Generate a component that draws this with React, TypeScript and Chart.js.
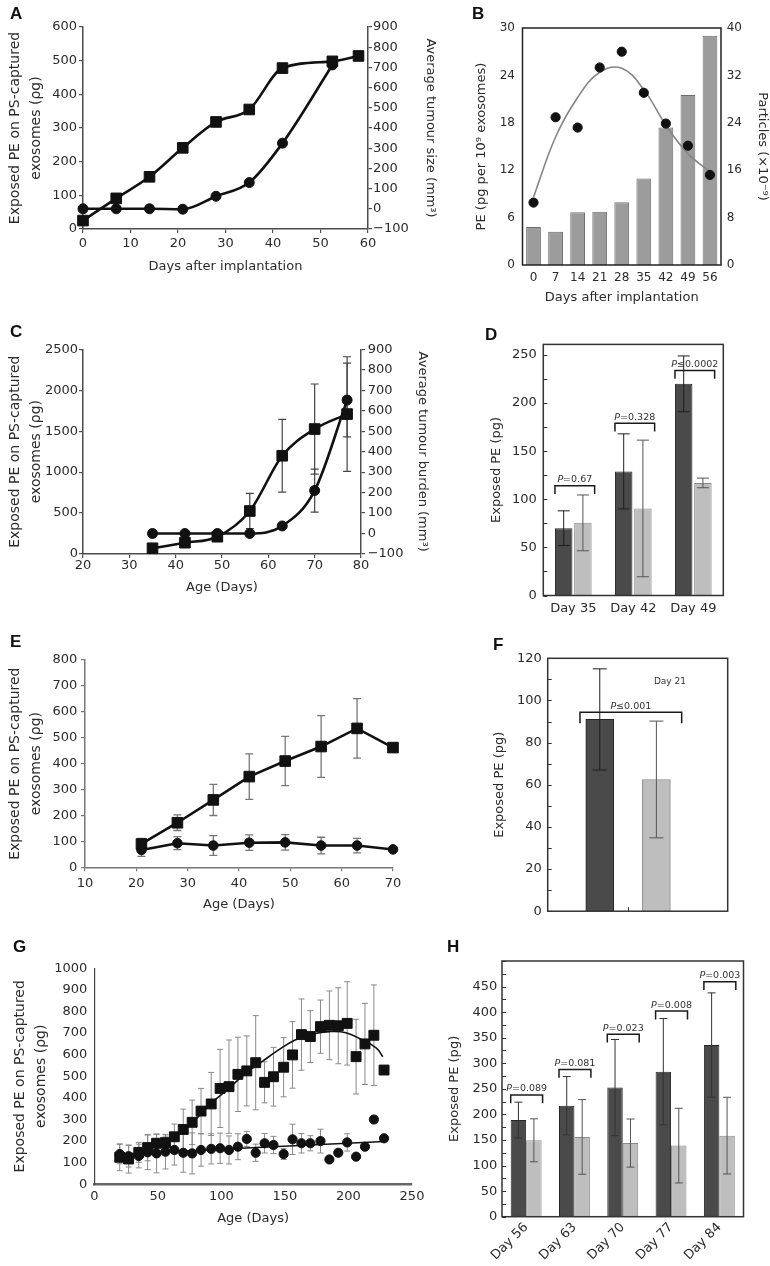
import React, { useEffect, useRef } from 'react';
import { Chart, registerables } from 'chart.js';

Chart.register(...registerables);

const FONT = '"DejaVu Sans", "Liberation Sans", sans-serif';
const TXT = '#2b2b2b';
Chart.defaults.font.family = FONT;
Chart.defaults.color = TXT;

// ---------- Panel A ----------
const aDaysPE = [0, 7, 14, 21, 28, 35, 42, 52.5, 58];
const aPE = [25, 91, 155, 241, 318, 355, 478, 498, 514];
const aDaysTumour = [0, 7, 14, 21, 28, 35, 42, 52.5];
const aTumour = [0, 0, 0, -2, 62, 130, 325, 712];

// ---------- Panel B ----------
const bDays = ['0', '7', '14', '21', '28', '35', '42', '49', '56'];
const bParticles = [6.4, 5.6, 8.9, 9.0, 10.6, 14.6, 23.2, 28.7, 38.7];
const bPE = [7.9, 18.7, 17.4, 25.0, 27.0, 21.8, 17.9, 15.1, 11.4];
const bFit = [8.6, 16.2, 21.2, 24.4, 24.9, 22.2, 17.7, 14.1, 11.8];

// ---------- Panel C ----------
const cAge = [35, 42, 49, 56, 63, 70, 77];
const cPE = [70, 138, 211, 525, 1200, 1526, 1709];
const cPEErr = [0, 0, 0, 216, 444, 550, 700];
const cTumour = [0, 0, 0, 0, 37, 210, 652];
const cTumourErr = [0, 0, 0, 0, 0, 105, 180];

// ---------- Panel D ----------
const dDays = ['Day 35', 'Day 42', 'Day 49'];
const dTumour = [70, 129, 220];
const dTumourErr = [18, 39, 29];
const dControl = [75.5, 90.5, 117];
const dControlErr = [29, 71, 5];
const dP = ['P=0.67', 'P=0.328', 'P\u22640.0002'];
const dBracketY = [114, 179, 234];

// ---------- Panel E ----------
const eAge = [21, 28, 35, 42, 49, 56, 63, 70];
const ePE = [90, 172, 260, 350, 410, 466, 536, 462];
const ePEErr = [22, 30, 60, 88, 95, 119, 115, 0];
const eCtrl = [67, 93, 84, 95, 96, 84, 84, 69];
const eCtrlErr = [25, 25, 38, 30, 30, 32, 28, 0];

// ---------- Panel F ----------
const fPos = [1, 2];
const fVals = [91, 62.5];
const fErr = [24, 27.7];
const fP = ['P\u22640.001'];
const fBracketY = [94.4];
const fNote = 'Day 21';
const fNoteX = 2.24;
const fNoteY = 108.7;
const fTickX = [1.5];

// ---------- Panel G ----------
const gAge = [20, 27, 35, 42, 49, 56, 63, 70, 77, 84, 92, 99, 106, 113, 120, 127, 134, 141, 149, 156, 163, 170, 178, 185, 192, 199, 206, 213, 220, 228];
const gPE = [125, 117, 148, 170, 190, 193, 220, 254, 287, 339, 372, 444, 452, 509, 525, 563, 472, 498, 542, 599, 693, 684, 730, 736, 734, 745, 591, 650, 690, 529];
const gPEErr = [62, 65, 46, 61, 41, 30, 59, 94, 103, 105, 146, 181, 216, 172, 162, 218, 95, 136, 137, 154, 165, 120, 123, 159, 176, 193, 173, 188, 233, 0];
const gCtrl = [140, 130, 131, 148, 143, 151, 159, 146, 143, 159, 164, 167, 159, 174, 210, 146, 190, 182, 140, 208, 190, 190, 200, 115, 146, 194, 128, 174, 300, 213];
const gCtrlErr = [45, 50, 55, 80, 90, 80, 70, 90, 95, 75, 70, 70, 65, 60, 35, 40, 45, 40, 25, 70, 45, 35, 55, 0, 0, 40, 0, 0, 0, 0];
const gTrendAge = [20, 35, 49, 63, 77, 92, 106, 119, 132, 145, 158, 172, 185, 198, 211, 222, 227];
const gTrendPE = [110, 130, 165, 215, 285, 375, 444, 514, 568, 622, 668, 696, 707, 702, 668, 630, 591];
const gCtrlTrendAge = [20, 228];
const gCtrlTrend = [140, 198];

// ---------- Panel H ----------
const hDays = ['Day 56', 'Day 63', 'Day 70', 'Day 77', 'Day 84'];
const hTumour = [189, 217, 252.5, 283.6, 335.7];
const hTumourErr = [35, 57, 94, 104, 102];
const hControl = [149.4, 156, 144, 139, 158.5];
const hControlErr = [42, 73, 47, 73, 75];
const hP = ['P=0.089', 'P=0.081', 'P=0.023', 'P=0.008', 'P=0.003'];
const hBracketY = [238, 288, 357, 402, 459.5];

// ---------- helpers ----------
const xy = (xs: number[], ys: number[]) => xs.map((x, i) => ({ x, y: ys[i] }));
const fmt = (v: number) => (v < 0 ? '\u2212' + Math.abs(v) : String(v));

function axis(horizontal: boolean, o: any) {
  const tick = o.tick ?? 0;
  const color = o.color ?? '#4d4d4d';
  const isCat = o.type === 'category';
  const ticks: any = {
    padding: o.pad ?? 3,
    font: { size: o.fontSize ?? 13 },
    color: TXT,
    autoSkip: false,
    maxRotation: o.rot ?? 0,
    minRotation: o.rot ?? 0,
    includeBounds: o.includeBounds ?? true,
  };
  if (!isCat) {
    ticks.stepSize = o.step;
    ticks.callback = (v: number) => (o.maxLabel !== undefined && v > o.maxLabel ? '' : fmt(v));
  }
  return {
    type: o.type ?? 'linear',
    position: o.position ?? (horizontal ? 'bottom' : 'left'),
    min: o.min,
    max: o.max,
    offset: isCat,
    afterFit: (s: any) => {
      if (horizontal) s.height = o.size;
      else s.width = o.size;
    },
    border: { display: o.border ?? true, color, width: o.lineWidth ?? 1.5 },
    grid: { display: tick > 0, drawOnChartArea: false, drawTicks: tick > 0, tickLength: tick, color, lineWidth: 1.2 },
    ticks,
    title: o.title
      ? {
          display: true,
          text: o.title,
          color: TXT,
          font: { size: o.titleSize ?? 13, lineHeight: o.titleLH ?? 1.2 },
          padding: horizontal ? { top: 0, bottom: o.titlePad ?? 0 } : { top: o.titlePad ?? 0, bottom: 0 },
        }
      : { display: false },
  };
}

function baseOptions(p: any) {
  return {
    responsive: false,
    animation: false,
    events: [],
    devicePixelRatio: 1,
    layout: { padding: { top: p.top ?? 0, right: p.right ?? 0, bottom: p.bottom ?? 0, left: 0 } },
    plugins: { legend: { display: false }, tooltip: { enabled: false }, title: { display: false } },
  };
}

function drawErrorBars(chart: any, specs: any[]) {
  const ctx = chart.ctx;
  specs.forEach((sp) => {
    const meta = chart.getDatasetMeta(sp.ds);
    const ys = chart.scales[meta.yAxisID];
    const data = chart.data.datasets[sp.ds].data;
    ctx.save();
    ctx.strokeStyle = sp.color;
    ctx.lineWidth = sp.width ?? 1;
    meta.data.forEach((el: any, j: number) => {
      const e = sp.values[j];
      if (!e) return;
      const raw = data[j];
      const v = typeof raw === 'number' ? raw : raw.y;
      const x = el.x;
      const y1 = ys.getPixelForValue(v + e);
      const y2 = ys.getPixelForValue(v - e);
      const h = sp.cap / 2;
      ctx.beginPath();
      ctx.moveTo(x, y1);
      ctx.lineTo(x, y2);
      ctx.moveTo(x - h, y1);
      ctx.lineTo(x + h, y1);
      ctx.moveTo(x - h, y2);
      ctx.lineTo(x + h, y2);
      ctx.stroke();
    });
    ctx.restore();
  });
}

const errorBars = (specs: any[], front: boolean) => ({
  id: 'errorBars',
  beforeDatasetsDraw(chart: any) {
    if (!front) drawErrorBars(chart, specs);
  },
  afterDatasetsDraw(chart: any) {
    if (front) drawErrorBars(chart, specs);
  },
});

const frame = (color: string, width: number) => ({
  id: 'frame',
  afterDraw(chart: any) {
    const { ctx, chartArea: c } = chart;
    ctx.save();
    ctx.strokeStyle = color;
    ctx.lineWidth = width;
    ctx.strokeRect(c.left, c.top, c.right - c.left, c.bottom - c.top);
    ctx.restore();
  },
});

const innerTicks = (yStep: number, xValues: number[] = [], len = 4) => ({
  id: 'innerTicks',
  afterDraw(chart: any) {
    const { ctx, chartArea: c } = chart;
    const s = chart.scales.y;
    ctx.save();
    ctx.strokeStyle = '#333';
    ctx.lineWidth = 1;
    ctx.beginPath();
    for (let v = s.min; v <= s.max + 1e-6; v += yStep) {
      const y = Math.round(s.getPixelForValue(v)) + 0.5;
      ctx.moveTo(c.left, y);
      ctx.lineTo(c.left + len, y);
    }
    xValues.forEach((v) => {
      const x = Math.round(chart.scales.x.getPixelForValue(v)) + 0.5;
      ctx.moveTo(x, c.bottom);
      ctx.lineTo(x, c.bottom - len);
    });
    ctx.stroke();
    ctx.restore();
  },
});

function drawPText(ctx: any, text: string, cx: number, y: number, size: number) {
  const first = text.charAt(0);
  const rest = text.slice(1);
  ctx.font = `italic ${size}px ${FONT}`;
  const w1 = ctx.measureText(first).width;
  ctx.font = `${size}px ${FONT}`;
  const w2 = ctx.measureText(rest).width;
  const x = cx - (w1 + w2) / 2;
  ctx.textAlign = 'left';
  ctx.textBaseline = 'alphabetic';
  ctx.font = `italic ${size}px ${FONT}`;
  ctx.fillText(first, x, y);
  ctx.font = `${size}px ${FONT}`;
  ctx.fillText(rest, x + w1, y);
}

const brackets = (cfg: any) => ({
  id: 'brackets',
  afterDraw(chart: any) {
    const { ctx } = chart;
    const ys = chart.scales.y;
    const xs = chart.scales.x;
    const a = chart.getDatasetMeta(0).data;
    const b = chart.getDatasetMeta(1).data;
    ctx.save();
    ctx.strokeStyle = '#1a1a1a';
    ctx.lineWidth = 1.5;
    ctx.fillStyle = '#333';
    cfg.ys.forEach((yv: number, i: number) => {
      const x0 = a[i].x - a[i].width / 2 - cfg.padL;
      const x1 = b[i].x + b[i].width / 2 + cfg.padR;
      const y = ys.getPixelForValue(yv);
      ctx.beginPath();
      ctx.moveTo(x0, y + cfg.leg);
      ctx.lineTo(x0, y);
      ctx.lineTo(x1, y);
      ctx.lineTo(x1, y + cfg.leg);
      ctx.stroke();
      drawPText(ctx, cfg.texts[i], (x0 + x1) / 2, y - cfg.gap, cfg.size);
    });
    (cfg.notes || []).forEach((n: any) => {
      ctx.font = `${n.size}px ${FONT}`;
      ctx.textAlign = 'center';
      ctx.textBaseline = 'middle';
      ctx.fillText(n.text, xs.getPixelForValue(n.x), ys.getPixelForValue(n.y));
    });
    ctx.restore();
  },
});

const TWO_LINE = ['Exposed PE on PS-captured', 'exosomes (\u03c1g)'];

const lineDs = (data: any, shape: string, extra: any = {}) => ({
  data,
  borderColor: '#111',
  backgroundColor: '#111',
  borderWidth: 2.6,
  pointStyle: shape,
  pointRadius: shape === 'rect' ? 7.5 : 5,
  pointBorderWidth: 1,
  pointBorderColor: '#111',
  pointBackgroundColor: '#111',
  clip: false,
  ...extra,
});

// ---------- configs ----------
function configA() {
  return {
    type: 'line',
    data: {
      datasets: [
        lineDs(xy(aDaysPE, aPE), 'rect', { yAxisID: 'y', cubicInterpolationMode: 'monotone' }),
        lineDs(xy(aDaysTumour, aTumour), 'circle', { yAxisID: 'y1', cubicInterpolationMode: 'monotone' }),
      ],
    },
    options: {
      ...baseOptions({ top: 27 }),
      scales: {
        x: axis(true, { min: 0, max: 60, step: 10, size: 61, title: 'Days after implantation', titlePad: 15.2, tick: 4, pad: 2.5 }),
        y: axis(false, { min: 0, max: 600, step: 100, size: 83, title: TWO_LINE, titleSize: 14, titleLH: 1.55, titlePad: 4.15, tick: 4, pad: 2 }),
        y1: axis(false, { position: 'right', min: -100, max: 900, step: 100, size: 77, title: 'Average tumour size (mm\u00b3)', titlePad: 7.2, tick: 4, pad: 1 }),
      },
    },
  };
}

function configB() {
  return {
    type: 'bar',
    data: {
      labels: bDays,
      datasets: [
        { type: 'line', data: bPE, yAxisID: 'y', showLine: false, pointRadius: 4.6, pointBackgroundColor: '#111', pointBorderColor: '#111', order: 1, clip: false },
        { type: 'line', data: bFit, yAxisID: 'y', borderColor: '#858585', borderWidth: 1.6, pointRadius: 0, tension: 0.4, order: 2, clip: false },
        { type: 'bar', data: bParticles, yAxisID: 'y1', backgroundColor: '#9c9c9c', borderColor: '#6e6e6e', borderWidth: 1, barPercentage: 0.67, categoryPercentage: 1, order: 3 },
      ],
    },
    options: {
      ...baseOptions({ top: 28 }),
      scales: {
        x: axis(true, { type: 'category', size: 45, title: 'Days after implantation', titlePad: 4.2, border: false, pad: 5.5, fontSize: 12 }),
        y: axis(false, { min: 0, max: 30, step: 6, size: 77.5, title: 'PE (pg per 10\u2079 exosomes)', titlePad: 29.2, border: false, pad: 7.5, fontSize: 12 }),
        y1: axis(false, { position: 'right', min: 0, max: 40, step: 8, size: 49, title: 'Particles (\u00d710\u207b\u2079)', titlePad: 0, border: false, pad: 5.7, fontSize: 12 }),
      },
    },
    plugins: [frame('#222', 1.5)],
  };
}

function configC() {
  return {
    type: 'line',
    data: {
      datasets: [
        lineDs(xy(cAge, cPE), 'rect', { yAxisID: 'y', cubicInterpolationMode: 'monotone' }),
        lineDs(xy(cAge, cTumour), 'circle', { yAxisID: 'y1', cubicInterpolationMode: 'monotone' }),
      ],
    },
    options: {
      ...baseOptions({ top: 19.3 }),
      scales: {
        x: axis(true, { min: 20, max: 80, step: 10, size: 56, title: 'Age (Days)', titlePad: 14.2, tick: 4, pad: 0 }),
        y: axis(false, { min: 0, max: 2500, step: 500, size: 83, title: TWO_LINE, titleSize: 14, titleLH: 1.55, titlePad: 4.15, tick: 4, pad: 1 }),
        y1: axis(false, { position: 'right', min: -100, max: 900, step: 100, size: 84, title: 'Average tumour burden (mm\u00b3)', titlePad: 15.2, tick: 4, pad: 2.7 }),
      },
    },
    plugins: [
      errorBars(
        [
          { ds: 0, values: cPEErr, color: '#444', cap: 8, width: 1.2 },
          { ds: 1, values: cTumourErr, color: '#444', cap: 8, width: 1.2 },
        ],
        false
      ),
    ],
  };
}

function configD() {
  return {
    type: 'bar',
    data: {
      labels: dDays,
      datasets: [
        { data: dTumour, backgroundColor: '#4a4a4a', borderColor: '#262626', borderWidth: 1, barPercentage: 0.91, categoryPercentage: 0.64 },
        { data: dControl, backgroundColor: '#bebebe', borderColor: '#8a8a8a', borderWidth: 1, barPercentage: 0.91, categoryPercentage: 0.64 },
      ],
    },
    options: {
      ...baseOptions({ top: 14, right: 46.7 }),
      scales: {
        x: axis(true, { type: 'category', size: 24.5, border: false, pad: 5 }),
        y: axis(false, { min: 0, max: 261, step: 50, size: 98.3, title: 'Exposed PE (pg)', titlePad: 44.2, border: false, pad: 6.6, includeBounds: false }),
      },
    },
    plugins: [
      errorBars(
        [
          { ds: 0, values: dTumourErr, color: '#1e1e1e', cap: 12, width: 1 },
          { ds: 1, values: dControlErr, color: '#555', cap: 12, width: 1 },
        ],
        true
      ),
      brackets({ ys: dBracketY, texts: dP, leg: 8.3, padL: 0, padR: 3, gap: 3.5, size: 9.5 }),
      innerTicks(25),
      frame('#333', 1.5),
    ],
  };
}

function configE() {
  return {
    type: 'line',
    data: {
      datasets: [
        lineDs(xy(eAge, ePE), 'rect', { tension: 0 }),
        lineDs(xy(eAge, eCtrl), 'circle', { tension: 0, pointRadius: 4.8 }),
      ],
    },
    options: {
      ...baseOptions({ top: 50, right: 52 }),
      scales: {
        x: axis(true, { min: 10, max: 70, step: 10, size: 52.7, title: 'Age (Days)', titlePad: 7.2, tick: 4, pad: 4.2, color: '#777' }),
        y: axis(false, { min: 0, max: 800, step: 100, size: 85, title: TWO_LINE, titleSize: 14, titleLH: 1.55, titlePad: 4.15, tick: 4, pad: 3.7, color: '#777' }),
      },
    },
    plugins: [
      errorBars(
        [
          { ds: 0, values: ePEErr, color: '#777', cap: 8, width: 1.3 },
          { ds: 1, values: eCtrlErr, color: '#777', cap: 8, width: 1.3 },
        ],
        false
      ),
    ],
  };
}

function configF() {
  return {
    type: 'bar',
    data: {
      datasets: [
        { data: [{ x: fPos[0], y: fVals[0] }], backgroundColor: '#4a4a4a', borderColor: '#262626', borderWidth: 1, barThickness: 28, grouped: false },
        { data: [{ x: fPos[1], y: fVals[1] }], backgroundColor: '#bebebe', borderColor: '#8a8a8a', borderWidth: 1, barThickness: 28, grouped: false },
      ],
    },
    options: {
      ...baseOptions({ top: 38.3, right: 42.3, bottom: 12 }),
      scales: {
        x: { type: 'linear', display: false, min: 0.08, max: 3.26, offset: false },
        y: axis(false, { min: 0, max: 120, step: 20, size: 102.7, title: 'Exposed PE (pg)', titlePad: 47.2, border: false, pad: 6 }),
      },
    },
    plugins: [
      errorBars(
        [
          { ds: 0, values: [fErr[0]], color: '#1e1e1e', cap: 14, width: 1 },
          { ds: 1, values: [fErr[1]], color: '#555', cap: 14, width: 1 },
        ],
        true
      ),
      brackets({ ys: fBracketY, texts: fP, leg: 11, padL: 5.8, padR: 11.3, gap: 3.5, size: 9.5, notes: [{ text: fNote, x: fNoteX, y: fNoteY, size: 9 }] }),
      innerTicks(10, fTickX),
      frame('#333', 1.5),
    ],
  };
}

function configG() {
  return {
    type: 'line',
    data: {
      datasets: [
        { data: xy(gAge, gPE), showLine: false, pointStyle: 'rect', pointRadius: 7, pointBackgroundColor: '#111', pointBorderColor: '#111', order: 1, clip: false },
        { data: xy(gAge, gCtrl), showLine: false, pointStyle: 'circle', pointRadius: 4.6, pointBackgroundColor: '#111', pointBorderColor: '#111', order: 2, clip: false },
        { data: xy(gTrendAge, gTrendPE), borderColor: '#111', borderWidth: 1.6, pointRadius: 0, tension: 0.4, order: 3, clip: false },
        { data: xy(gCtrlTrendAge, gCtrlTrend), borderColor: '#111', borderWidth: 1.6, pointRadius: 0, tension: 0, order: 4, clip: false },
      ],
    },
    options: {
      ...baseOptions({ top: 38.3, right: 33 }),
      scales: {
        x: axis(true, { min: 0, max: 250, step: 50, size: 81.7, title: 'Age (Days)', titlePad: 39.9, pad: 4.6, color: '#666', lineWidth: 2.5 }),
        y: axis(false, { min: 0, max: 1000, step: 100, size: 94.3, title: TWO_LINE, titleSize: 14, titleLH: 1.55, titlePad: 9.15, pad: 7, color: '#444', lineWidth: 1.2 }),
      },
    },
    plugins: [
      errorBars(
        [
          { ds: 0, values: gPEErr, color: '#8a8a8a', cap: 6, width: 1 },
          { ds: 1, values: gCtrlErr, color: '#8a8a8a', cap: 6, width: 1 },
        ],
        false
      ),
    ],
  };
}

function configH() {
  return {
    type: 'bar',
    data: {
      labels: hDays,
      datasets: [
        { data: hTumour, backgroundColor: '#4a4a4a', borderColor: '#262626', borderWidth: 1, barPercentage: 1, categoryPercentage: 0.64 },
        { data: hControl, backgroundColor: '#bebebe', borderColor: '#8a8a8a', borderWidth: 1, barPercentage: 1, categoryPercentage: 0.64 },
      ],
    },
    options: {
      ...baseOptions({ top: 31, right: 26.5 }),
      scales: {
        x: axis(true, { type: 'category', size: 49.3, border: false, pad: 3, rot: 45 }),
        y: axis(false, { min: 0, max: 500, step: 50, size: 57, title: 'Exposed PE (pg)', titlePad: 2.2, border: false, pad: 4.7, maxLabel: 450 }),
      },
    },
    plugins: [
      errorBars(
        [
          { ds: 0, values: hTumourErr, color: '#333', cap: 8, width: 1 },
          { ds: 1, values: hControlErr, color: '#555', cap: 8, width: 1 },
        ],
        true
      ),
      brackets({ ys: hBracketY, texts: hP, leg: 8.3, padL: 0, padR: 1, gap: 3.5, size: 9.5 }),
      innerTicks(25),
      frame('#333', 1.5),
    ],
  };
}

function ChartPanel({ make, box }: { make: () => any; box: number[] }) {
  const ref = useRef<HTMLCanvasElement | null>(null);
  useEffect(() => {
    const chart = new Chart(ref.current as HTMLCanvasElement, make());
    return () => chart.destroy();
  }, []);
  return (
    <canvas
      ref={ref}
      width={box[2]}
      height={box[3]}
      style={{ position: 'absolute', left: box[0], top: box[1], width: box[2], height: box[3] }}
    />
  );
}

const letterStyle: any = {
  position: 'absolute',
  fontFamily: '"Liberation Sans", Arial, sans-serif',
  fontWeight: 700,
  fontSize: 17,
  lineHeight: '17px',
  color: '#111',
};

const letters: [string, number, number][] = [
  ['A', 10, 5],
  ['B', 472, 5],
  ['C', 10, 323],
  ['D', 485, 326],
  ['E', 10, 633],
  ['F', 493, 636],
  ['G', 13, 938],
  ['H', 447, 938],
];

export default function App() {
  return (
    <div style={{ position: 'absolute', left: 0, top: 0, width: 770, height: 1266, background: '#fff', overflow: 'hidden' }}>
      <ChartPanel make={configA} box={[0, 0, 445, 290]} />
      <ChartPanel make={configB} box={[445, 0, 325, 310]} />
      <ChartPanel make={configC} box={[0, 330, 445, 280]} />
      <ChartPanel make={configD} box={[445, 330, 325, 290]} />
      <ChartPanel make={configE} box={[0, 610, 445, 310]} />
      <ChartPanel make={configF} box={[445, 620, 325, 305]} />
      <ChartPanel make={configG} box={[0, 930, 445, 336]} />
      <ChartPanel make={configH} box={[445, 930, 325, 336]} />
      {letters.map(([t, l, tp]) => (
        <div key={t} style={{ ...letterStyle, left: l, top: tp }}>
          {t}
        </div>
      ))}
    </div>
  );
}
